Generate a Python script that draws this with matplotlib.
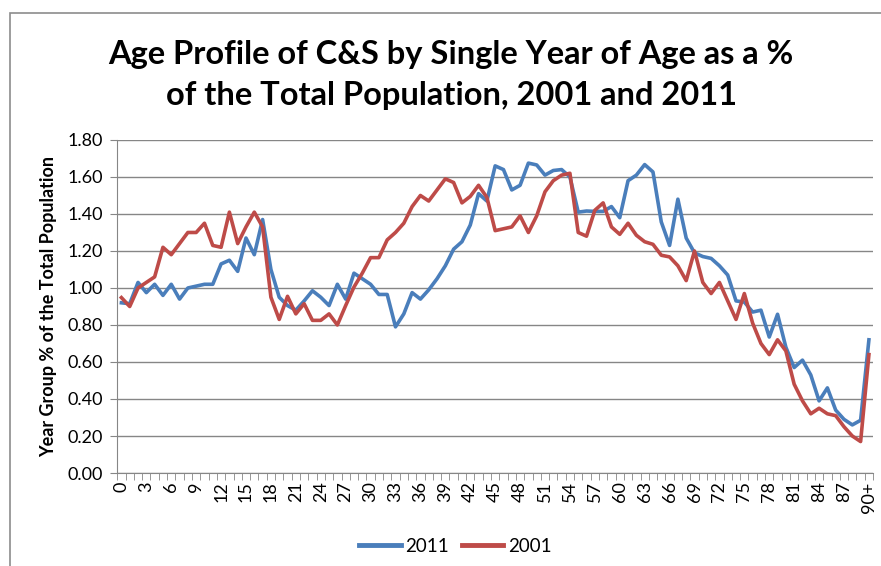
import matplotlib
matplotlib.use('Agg')
import matplotlib.pyplot as plt
from matplotlib.patches import Rectangle
from matplotlib.ticker import MultipleLocator, FixedLocator
import numpy as np

# single year of age, 0..89 and 90+
ages = [str(a) for a in range(90)] + ['90+']

pop_2011 = [0.92, 0.915, 1.03, 0.975, 1.02, 0.96, 1.02, 0.94, 1.00, 1.01,
            1.02, 1.02, 1.13, 1.15, 1.09, 1.27, 1.18, 1.37, 1.10, 0.95,
            0.905, 0.88, 0.93, 0.985, 0.95, 0.905, 1.02, 0.94, 1.08, 1.05,
            1.02, 0.965, 0.965, 0.79, 0.86, 0.975, 0.94, 0.99, 1.05, 1.12,
            1.21, 1.25, 1.34, 1.51, 1.47, 1.66, 1.64, 1.53, 1.555, 1.675,
            1.665, 1.61, 1.635, 1.64, 1.60, 1.41, 1.416, 1.414, 1.414, 1.44,
            1.38, 1.58, 1.61, 1.667, 1.627, 1.357, 1.23, 1.48, 1.27, 1.19,
            1.17, 1.16, 1.12, 1.07, 0.93, 0.924, 0.87, 0.88, 0.735, 0.858,
            0.68, 0.57, 0.61, 0.53, 0.39, 0.46, 0.34, 0.29, 0.26, 0.285,
            0.72]

pop_2001 = [0.948, 0.90, 1.00, 1.03, 1.06, 1.22, 1.18, 1.24, 1.30, 1.30,
            1.35, 1.23, 1.22, 1.41, 1.24, 1.33, 1.41, 1.33, 0.95, 0.83,
            0.955, 0.86, 0.915, 0.825, 0.825, 0.86, 0.80, 0.905, 1.005, 1.08,
            1.164, 1.164, 1.26, 1.30, 1.35, 1.44, 1.50, 1.47, 1.53, 1.59,
            1.57, 1.46, 1.495, 1.555, 1.49, 1.31, 1.32, 1.33, 1.39, 1.30,
            1.39, 1.52, 1.58, 1.61, 1.62, 1.30, 1.28, 1.42, 1.46, 1.33,
            1.29, 1.35, 1.285, 1.25, 1.236, 1.177, 1.168, 1.12, 1.04, 1.20,
            1.03, 0.97, 1.03, 0.93, 0.83, 0.97, 0.81, 0.70, 0.64, 0.72,
            0.66, 0.48, 0.39, 0.32, 0.35, 0.32, 0.31, 0.25, 0.20, 0.17,
            0.64]

blue = '#4A7EBB'
red = '#BE4B48'
grey = '#868686'
font = 'Lato'

fig = plt.figure(figsize=(8.81, 5.66), dpi=100)
ax = fig.add_axes([0.1331, 0.1643, 0.8579, 0.5884])

x = np.arange(len(ages))
ax.plot(x, pop_2011, color=blue, lw=2.6, label='2011', solid_joinstyle='round')
ax.plot(x, pop_2001, color=red, lw=2.6, label='2001', solid_joinstyle='round')

ax.set_xlim(-0.5, len(ages) - 0.5)
ax.set_ylim(0, 1.8)
ax.yaxis.set_major_locator(MultipleLocator(0.2))
ax.set_yticklabels([f'{v:.2f}' for v in ax.get_yticks()], fontsize=13, family=font)
ax.grid(axis='y', color=grey, lw=1)
ax.set_axisbelow(True)

# category labels every 3 years, tick marks between categories
ax.set_xticks(x[::3])
ax.set_xticklabels(ages[::3], rotation=90, fontsize=13, family=font)
ax.tick_params(axis='x', which='major', length=0, pad=6)
ax.xaxis.set_minor_locator(FixedLocator(np.arange(-0.5, len(ages), 1)))
ax.tick_params(axis='x', which='minor', length=5, color=grey, direction='out')
ax.tick_params(axis='y', length=5, color=grey, direction='out', pad=5)

for s in ['top', 'right']:
    ax.spines[s].set_visible(False)
for s in ['left', 'bottom']:
    ax.spines[s].set_color(grey)

ax.set_ylabel('Year Group % of the Total Population', fontsize=13,
              fontweight='bold', family=font, labelpad=8)

fig.text(0.512, 0.868, 'Age Profile of C&S by Single Year of Age as a %\nof the Total Population, 2001 and 2011',
         ha='center', va='center', fontsize=23.5, fontweight='bold', family=font,
         linespacing=1.5)

leg = fig.legend(loc='center', bbox_to_anchor=(0.517, 0.035), ncol=2, frameon=False,
                 prop={'family': font, 'size': 13.5}, handlelength=2.2, columnspacing=0.7,
                 handletextpad=0.25)
for h in leg.get_lines():
    h.set_linewidth(3.5)

# chart frame
fig.add_artist(Rectangle((10 / 881, -0.2), 1.2, 1.2 - 13 / 566 + 0.0,
                         transform=fig.transFigure, fill=False, ec='#8c8c8c', lw=1.2))

fig.savefig('out.png', dpi=100)
